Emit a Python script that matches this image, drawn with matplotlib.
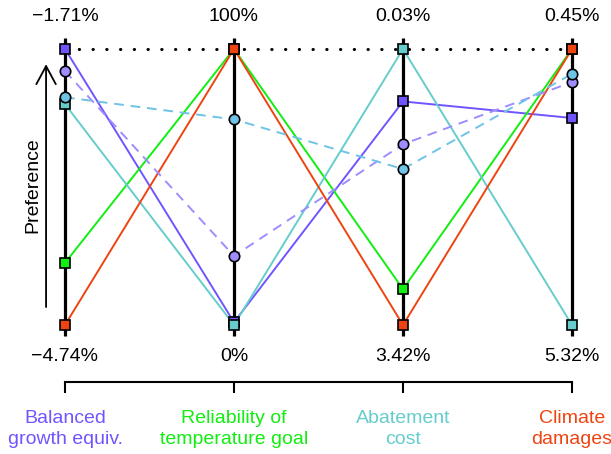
import numpy as np
import matplotlib.pyplot as plt

plt.rcParams['font.family'] = ['Liberation Sans', 'DejaVu Sans']

# criteria (parallel axes)
criteria = ['Balanced\ngrowth equiv.', 'Reliability of\ntemperature goal',
            'Abatement\ncost', 'Climate\ndamages']
criteria_colors = ['#7055FF', '#11EE11', '#66CCCC', '#EE4411']
top_labels = ['\u22121.71%', '100%', '0.03%', '0.45%']
bottom_labels = ['\u22124.74%', '0%', '3.42%', '5.32%']

# normalised preference of each solution on each axis (0 = worst, 1 = best)
balanced = [1.00, 0.01, 0.81, 0.75]
reliability = [0.225, 1.00, 0.13, 1.00]
abatement = [0.80, 0.00, 1.00, 0.00]
climate = [0.00, 1.00, 0.00, 1.00]
compromise_a = [0.92, 0.25, 0.655, 0.88]
compromise_b = [0.825, 0.745, 0.565, 0.91]

solid_series = [balanced, reliability, abatement, climate]
solid_colors = criteria_colors
dashed_series = [compromise_a, compromise_b]
dashed_colors = ['#9D8DFF', '#6EC3E6']

x = np.arange(len(criteria))

fig = plt.figure(figsize=(6.11, 4.54), dpi=100)
ax = fig.add_axes([65 / 611, 129 / 454, 507 / 611, 276 / 454])
ax.set_xlim(0, 3)
ax.set_ylim(0, 1)

# vertical axes
for xi in x:
    ax.plot([xi, xi], [-0.04, 1.04], color='black', lw=2.3, zorder=3,
            clip_on=False, solid_capstyle='butt')

# ideal point line
ax.plot(x, [1] * len(x), color='black', lw=2.2, linestyle=(0, (0.1, 4.4)),
        dash_capstyle='round', zorder=2.5, clip_on=False)

for vals, col in zip(solid_series, solid_colors):
    ax.plot(x, vals, color=col, lw=1.4, zorder=2, clip_on=False)
for vals, col in zip(dashed_series, dashed_colors):
    ax.plot(x, vals, color=col, lw=1.4, linestyle=(0, (5, 3.5)), zorder=2,
            clip_on=False)

for vals, col in zip(solid_series, solid_colors):
    ax.plot(x, vals, linestyle='none', marker='s', ms=6.5, mfc=col,
            mec='black', mew=1.2, zorder=4, clip_on=False)
for vals, col in zip(dashed_series, dashed_colors):
    ax.plot(x, vals, linestyle='none', marker='o', ms=7.5, mfc=col,
            mec='black', mew=1.2, zorder=4, clip_on=False)

# value labels above and below each axis
for xi, t, b in zip(x, top_labels, bottom_labels):
    ax.text(xi, 1.118, t, ha='center', va='center', fontsize=14)
    ax.text(xi, -0.115, b, ha='center', va='center', fontsize=14)

# preference arrow
ax.annotate('', xy=(-0.112, 0.955), xytext=(-0.112, 0.055),
            arrowprops=dict(arrowstyle='->,head_length=0.65,head_width=0.35',
                            lw=1.3, color='black', mutation_scale=20),
            annotation_clip=False)
ax.text(-0.19, 0.505, 'Preference', rotation=90, ha='center', va='center',
        fontsize=14)

# bottom bracket with category names
for side in ['top', 'left', 'right']:
    ax.spines[side].set_visible(False)
ax.spines['bottom'].set_position(('outward', 41))
ax.spines['bottom'].set_bounds(0, 3)
ax.spines['bottom'].set_linewidth(1.5)
ax.set_yticks([])
ax.set_xticks(x)
ax.set_xticklabels(criteria, fontsize=14, linespacing=1.25)
ax.tick_params(axis='x', direction='out', length=8, width=1.5, pad=12.5)
for lbl, col in zip(ax.get_xticklabels(), criteria_colors):
    lbl.set_color(col)
ax.patch.set_visible(False)

fig.savefig('out.png', dpi=100)
